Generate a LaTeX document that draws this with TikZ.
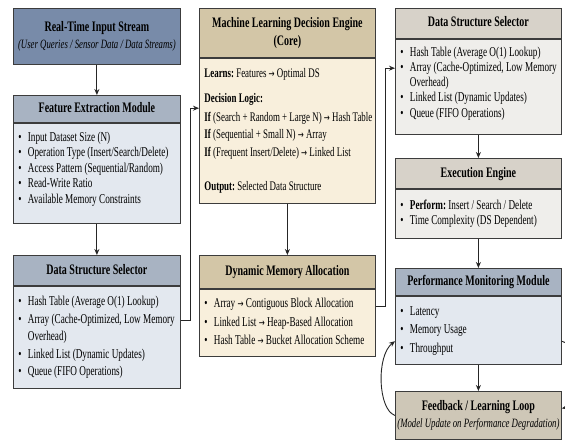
\documentclass[tikz,border=0pt]{standalone}
\usepackage{fontspec}
\usepackage{graphicx}
\setmainfont{Liberation Serif}
\newfontfamily\symf{DejaVu Sans}
\usetikzlibrary{arrows.meta}
\definecolor{bordc}{HTML}{3C3C3C}
\definecolor{inFill}{HTML}{788BA9}
\definecolor{bHd}{HTML}{A8B3C2}
\definecolor{bBd}{HTML}{E3E8EF}
\definecolor{tHd}{HTML}{D3C6A7}
\definecolor{tBd}{HTML}{F8EFDC}
\definecolor{gHd}{HTML}{D7D2C9}
\definecolor{gBd}{HTML}{EFEEEB}
\definecolor{fbFill}{HTML}{CEC7B7}
\newcommand{\bul}{\makebox[14pt][l]{\textbullet}}
\newcommand{\arw}{{\symf\fontsize{10.5}{10}\selectfont →}}
\newcommand{\hsq}[1]{\scalebox{0.69}[1]{\begin{tabular}{@{}c@{}}#1\end{tabular}}}
\newcommand{\bsq}[2]{\makebox[#1][l]{\scalebox{0.68}[1]{\begin{tabular}{@{}l@{}}#2\end{tabular}}}}
\tikzset{
  box/.style={draw=bordc, line width=0.8pt, anchor=north west, inner sep=0pt, text=black},
  hdrtxt/.style={font=\fontsize{14.5}{18}\selectfont\bfseries},
  bodytxt/.style={font=\fontsize{13.5}{15.5}\selectfont, inner xsep=5pt},
  arr/.style={draw=black!85, line width=0.9pt, -{Stealth[length=6pt,width=5pt]}}
}
\begin{document}
\frenchspacing
\begin{tikzpicture}[x=1pt,y=-1pt]
\useasboundingbox (0,0) rectangle (565,441);
\fill[white] (0,0) rectangle (565,441);
% Left column
\node[box, fill=inFill, minimum width=167pt, minimum height=56pt, font=\fontsize{12.7}{17}\selectfont] (inB) at (13,8)
  {\raisebox{-2pt}{\hsq{{\fontsize{14.5}{17}\selectfont\bfseries Real-Time Input Stream}\\{\itshape (User Queries / Sensor Data / Data Streams)}}}};
\node[box, hdrtxt, fill=bHd, minimum width=167pt, minimum height=27pt] (featH) at (13,95) {\hsq{Feature Extraction Module}};
\node[box, bodytxt, fill=bBd, minimum width=167pt, minimum height=100pt] (featB) at (featH.south west)
  {\bsq{157pt}{\bul Input Dataset Size (N)\\\bul Operation Type (Insert/Search/Delete)\\\bul Access Pattern (Sequential/Random)\\\bul Read-Write Ratio\\\bul Available Memory Constraints\\[8pt]}};
\node[box, hdrtxt, fill=bHd, minimum width=167pt, minimum height=30pt] (dssLH) at (13,255) {\hsq{Data Structure Selector}};
\node[box, bodytxt, fill=bBd, minimum width=167pt, minimum height=102pt, font=\fontsize{13.5}{17.5}\selectfont] (dssLB) at (dssLH.south west)
  {\bsq{157pt}{\bul Hash Table (Average O(1) Lookup)\\\bul Array (Cache-Optimized, Low Memory\\\hspace*{14pt}Overhead)\\\bul Linked List (Dynamic Updates)\\\bul Queue (FIFO Operations)}};
% Middle column
\node[box, hdrtxt, fill=tHd, minimum width=176pt, minimum height=49pt] (mlH) at (199,8) {\raisebox{-3pt}{\hsq{Machine Learning Decision Engine\\(Core)}}};
\node[box, bodytxt, fill=tBd, minimum width=176pt, minimum height=145pt, font=\fontsize{13.1}{15.5}\selectfont] (mlB) at (mlH.south west)
  {\bsq{166pt}{\textbf{Learns:} Features \arw{} Optimal DS\\[10pt]\textbf{Decision Logic:}\\[3pt]\textbf{If} (Search + Random + Large N) \arw{} Hash Table\\[2pt]\textbf{If} (Sequential + Small N) \arw{} Array\\[2pt]\textbf{If} (Frequent Insert/Delete) \arw{} Linked List\\[19pt]\textbf{Output:} Selected Data Structure}};
\node[box, hdrtxt, fill=tHd, minimum width=176pt, minimum height=33pt] (dmaH) at (199,255) {\hsq{Dynamic Memory Allocation}};
\node[box, bodytxt, fill=tBd, minimum width=176pt, minimum height=67pt, font=\fontsize{13.5}{18.5}\selectfont] (dmaB) at (dmaH.south west)
  {\bsq{166pt}{\bul Array \arw{} Contiguous Block Allocation\\\bul Linked List \arw{} Heap-Based Allocation\\\bul Hash Table \arw{} Bucket Allocation Scheme}};
% Right column
\node[box, hdrtxt, fill=gHd, minimum width=166pt, minimum height=30pt] (dssRH) at (395,8) {\hsq{Data Structure Selector}};
\node[box, bodytxt, fill=gBd, minimum width=166pt, minimum height=95pt, font=\fontsize{13.5}{15.2}\selectfont] (dssRB) at (dssRH.south west)
  {\bsq{156pt}{\bul Hash Table (Average O(1) Lookup)\\\bul Array (Cache-Optimized, Low Memory\\\hspace*{14pt}Overhead)\\\bul Linked List (Dynamic Updates)\\\bul Queue (FIFO Operations)\\[6pt]}};
\node[box, hdrtxt, fill=gHd, minimum width=166pt, minimum height=30pt] (exH) at (395,158) {\hsq{Execution Engine}};
\node[box, bodytxt, fill=gBd, minimum width=166pt, minimum height=49pt] (exB) at (exH.south west)
  {\bsq{156pt}{\bul \textbf{Perform:} Insert / Search / Delete\\\bul Time Complexity (DS Dependent)}};
\node[box, hdrtxt, fill=bHd, minimum width=166pt, minimum height=27pt] (pmH) at (395,268) {\hsq{Performance Monitoring Module}};
\node[box, bodytxt, fill=bBd, minimum width=166pt, minimum height=68pt, font=\fontsize{13.5}{18.5}\selectfont] (pmB) at (pmH.south west)
  {\bsq{156pt}{\bul Latency\\\bul Memory Usage\\\bul Throughput}};
\node[box, fill=fbFill, minimum width=166pt, minimum height=48pt, font=\fontsize{12.7}{17}\selectfont] (fb) at (395,391)
  {\raisebox{-2.5pt}{\hsq{{\fontsize{14.5}{17}\selectfont\bfseries Feedback / Learning Loop}\\{\itshape (Model Update on Performance Degradation)}}}};
% Connectors
\draw[arr] (inB.south) -- (featH.north);
\draw[arr] (featB.south) -- (dssLH.north);
\draw[arr] ([yshift=17pt]dssLB.east) -- ++(10,0) |- ([yshift=22.5pt]mlB.west);
\draw[arr] (mlB.south) -- (dmaH.north);
\draw[arr] ([yshift=16.5pt]dmaB.east) -- ++(10,0) |- ([yshift=18.5pt]dssRB.west);
\draw[arr] (dssRB.south) -- (exH.north);
\draw[arr] (exB.south) -- (pmH.north);
\draw[arr] (pmB.south) -- (fb.north);
\draw[arr] (fb.west) .. controls (378,410) and (376,356) .. ([yshift=-11pt]pmB.west);
\draw[arr] ([yshift=-11pt]pmB.east) .. controls (582,346) and (582,404) .. ([yshift=7pt]fb.east);
\end{tikzpicture}
\end{document}
